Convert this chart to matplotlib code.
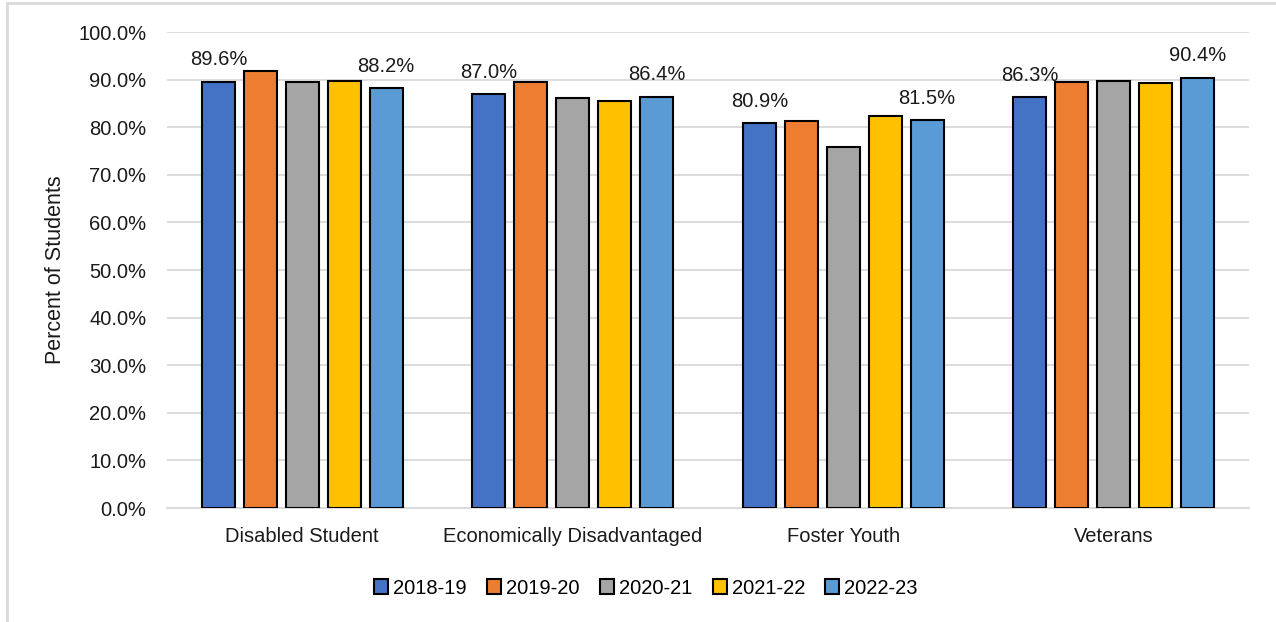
import matplotlib
matplotlib.use("Agg")
import matplotlib.pyplot as plt
from matplotlib import font_manager
from matplotlib.patches import Rectangle
import numpy as np

categories = ["Disabled Student", "Economically Disadvantaged", "Foster Youth", "Veterans"]
years = ["2018-19", "2019-20", "2020-21", "2021-22", "2022-23"]
v_2018_19 = [89.6, 87.0, 80.9, 86.3]
v_2019_20 = [91.9, 89.5, 81.4, 89.4]
v_2020_21 = [89.4, 86.2, 75.9, 89.7]
v_2021_22 = [89.8, 85.6, 82.3, 89.2]
v_2022_23 = [88.2, 86.4, 81.5, 90.4]
series = [v_2018_19, v_2019_20, v_2020_21, v_2021_22, v_2022_23]
colors = ["#4472C4", "#ED7D31", "#A5A5A5", "#FFC000", "#5B9BD5"]
yticks = [0, 10, 20, 30, 40, 50, 60, 70, 80, 90, 100]

names = {f.name for f in font_manager.fontManager.ttflist}
fam = "Liberation Sans Narrow" if "Liberation Sans Narrow" in names else "Liberation Sans"
plt.rcParams["font.family"] = [fam, "DejaVu Sans"]
fs = 15.5 if fam == "Liberation Sans Narrow" else 14.5

W, H = 1276, 622
fig = plt.figure(figsize=(W / 100, H / 100), dpi=100)
AX_L, AX_R, AX_T, AX_B = 167, 1249, 32, 508
ax = fig.add_axes([AX_L / W, 1 - AX_B / H, (AX_R - AX_L) / W, (AX_B - AX_T) / H])

x = np.arange(len(categories))
pitch = 0.155
bw = 0.122
for i, (vals, c) in enumerate(zip(series, colors)):
    pos = x + (i - 2) * pitch
    ax.bar(pos, vals, width=bw, color=c, edgecolor="black", linewidth=1.5,
           label=years[i], zorder=3)
    if i in (0, 4):
        for xp, v in zip(pos, vals):
            ax.text(xp, v + 2.6, f"{v:.1f}%", ha="center", va="bottom", fontsize=fs, color="#1a1a1a")

ax.set_xlim(-0.5, len(categories) - 0.5)
ax.set_ylim(0, 100)
ax.set_yticks(yticks)
ax.set_yticklabels([f"{t:.1f}%" for t in yticks], fontsize=fs, color="#1a1a1a")
ax.set_xticks(x)
ax.set_xticklabels(categories, fontsize=fs, color="#1a1a1a")
ax.tick_params(axis="both", length=0)
ax.tick_params(axis="y", pad=15)
ax.tick_params(axis="x", pad=14)
ax.yaxis.grid(True, color="#D9D9D9", linewidth=1.3, zorder=0)
for s in ["top", "right", "left"]:
    ax.spines[s].set_visible(False)
ax.spines["bottom"].set_color("#D9D9D9")
ax.spines["bottom"].set_linewidth(1.3)
ax.set_ylabel("Percent of Students", fontsize=fs + 1, color="#1a1a1a")
ax.yaxis.set_label_coords((66 - AX_L) / (AX_R - AX_L), 0.5)

fig.legend(loc="center", bbox_to_anchor=(646 / W, 1 - 588 / H), ncol=5, frameon=False,
           fontsize=fs, handlelength=0.7, handleheight=0.7, handletextpad=0.25,
           columnspacing=1.0)

fig.patches.append(Rectangle((7 / W, -0.1), 1.1, 1 - 3 / H + 0.1, transform=fig.transFigure,
                             fill=False, edgecolor="#D9D9D9", linewidth=2))

fig.savefig("out.png", dpi=100)
